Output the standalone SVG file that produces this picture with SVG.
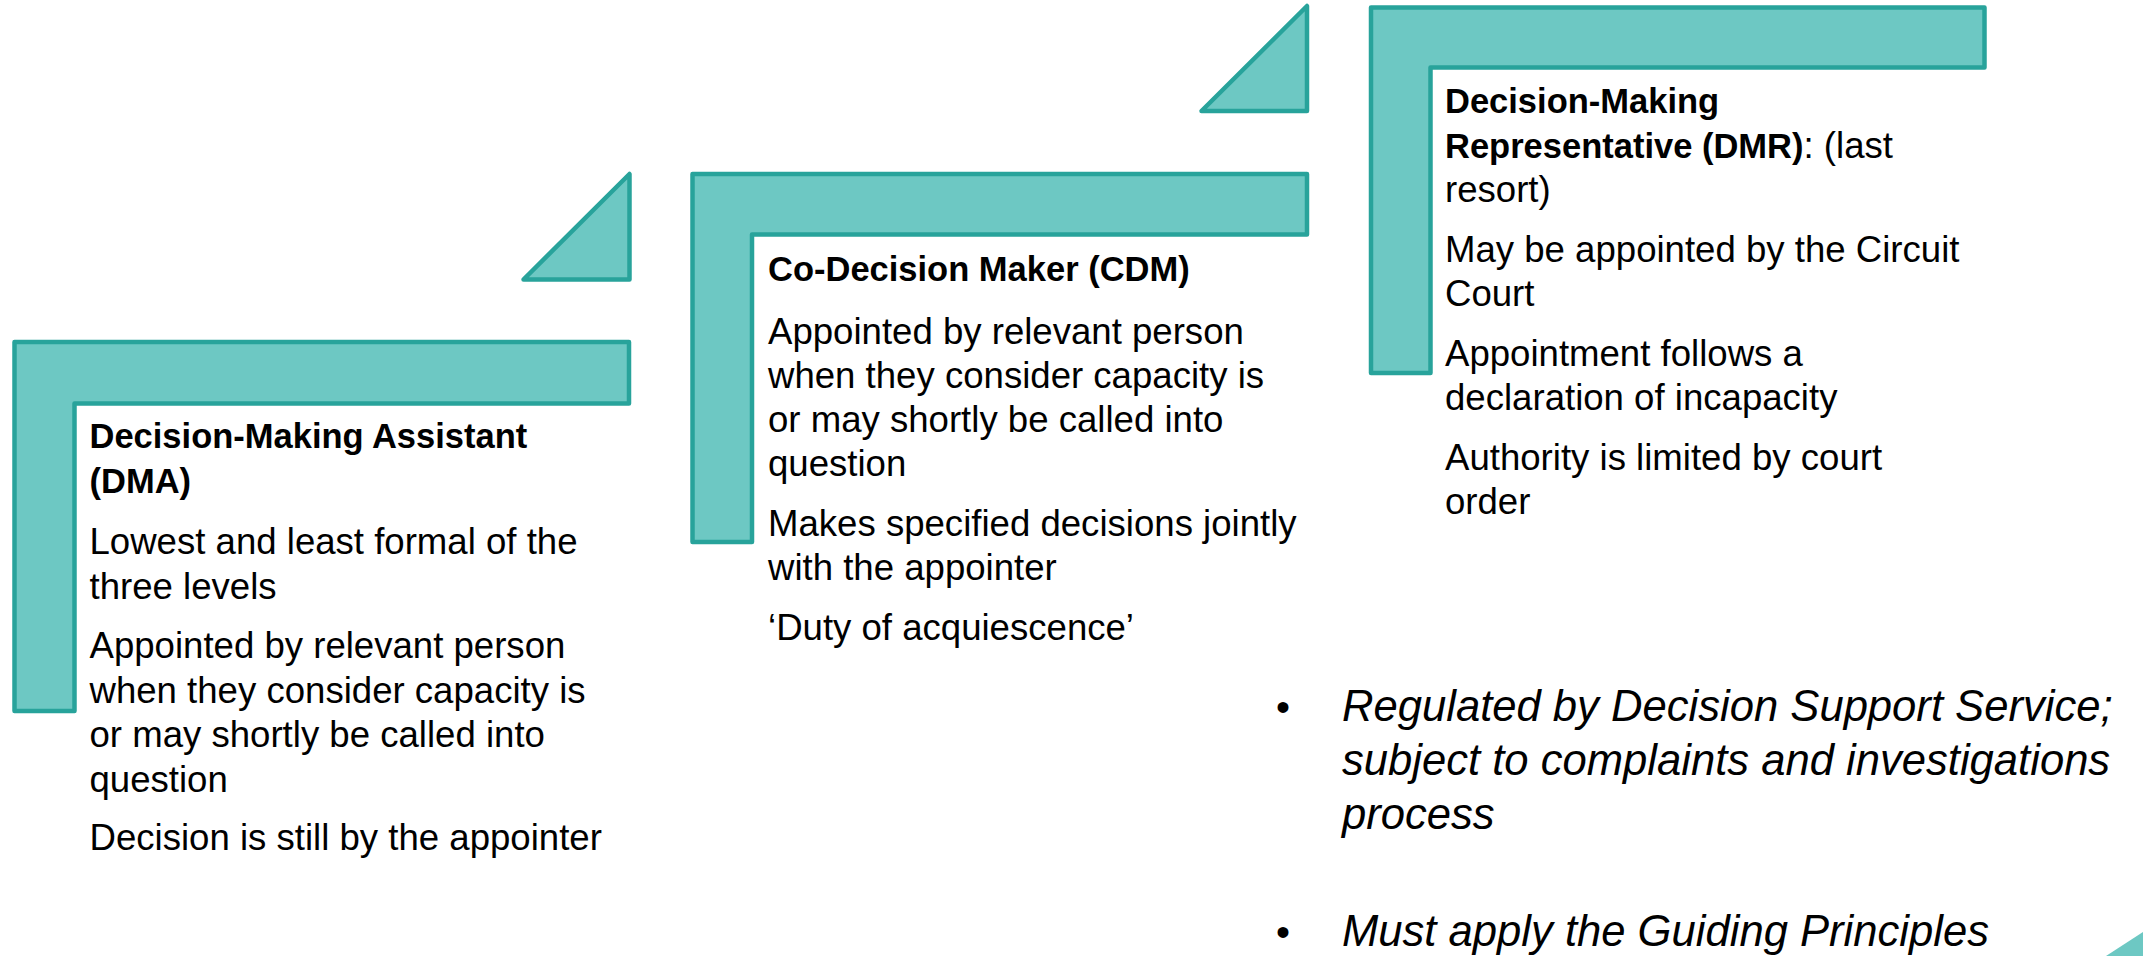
<svg xmlns="http://www.w3.org/2000/svg" width="2143" height="956" viewBox="0 0 2143 956">
  <style>
    .shape { fill: #6DC8C3; stroke: #28A39B; stroke-width: 4.5; stroke-linejoin: round; }
    .t { font-family: "Liberation Sans", Arial, sans-serif; font-size: 36.6px; fill: #000; }
    .b { font-weight: bold; font-size: 34.5px; }
    .n { font-weight: normal; font-size: 36.6px; }
    .it { font-family: "Liberation Sans", Arial, sans-serif; font-style: italic; font-size: 43.6px; fill: #000; }
  </style>
  <rect width="2143" height="956" fill="#FFFFFF"/>

  <g id="connectors">
    <polygon class="shape" points="523.5,279.5 629.5,174 629.5,279.5"/>
    <polygon class="shape" points="1201.5,111 1307,6 1307,111"/>
  </g>

  <g id="node-dma">
    <path class="shape" d="M14.5,342 H629 V403.5 H74.5 V711 H14.5 Z"/>
    <text class="t" x="89.5">
      <tspan class="b" x="89.5" y="448">Decision-Making Assistant</tspan>
      <tspan class="b" x="89.5" y="492.5">(DMA)</tspan>
      <tspan x="89.5" y="554">Lowest and least formal of the</tspan>
      <tspan x="89.5" y="598.5">three levels</tspan>
      <tspan x="89.5" y="658">Appointed by relevant person</tspan>
      <tspan x="89.5" y="702.5">when they consider capacity is</tspan>
      <tspan x="89.5" y="747">or may shortly be called into</tspan>
      <tspan x="89.5" y="791.5">question</tspan>
      <tspan x="89.5" y="850">Decision is still by the appointer</tspan>
    </text>
  </g>

  <g id="node-cdm">
    <path class="shape" d="M692.5,174 H1307 V234.5 H752 V542 H692.5 Z"/>
    <text class="t" x="768">
      <tspan class="b" x="768" y="281">Co-Decision Maker (CDM)</tspan>
      <tspan x="768" y="344">Appointed by relevant person</tspan>
      <tspan x="768" y="388">when they consider capacity is</tspan>
      <tspan x="768" y="432">or may shortly be called into</tspan>
      <tspan x="768" y="476">question</tspan>
      <tspan x="768" y="536">Makes specified decisions jointly</tspan>
      <tspan x="768" y="580">with the appointer</tspan>
      <tspan x="768" y="640">‘Duty of acquiescence’</tspan>
    </text>
  </g>

  <g id="node-dmr">
    <path class="shape" d="M1371,7.5 H1984.5 V67.5 H1430.5 V373 H1371 Z"/>
    <text class="t" x="1445">
      <tspan class="b" x="1445" y="113">Decision-Making</tspan>
      <tspan class="b" x="1445" y="157.5">Representative (DMR)</tspan><tspan class="n">: (last</tspan>
      <tspan x="1445" y="202">resort)</tspan>
      <tspan x="1445" y="262">May be appointed by the Circuit</tspan>
      <tspan x="1445" y="306">Court</tspan>
      <tspan x="1445" y="366">Appointment follows a</tspan>
      <tspan x="1445" y="410">declaration of incapacity</tspan>
      <tspan x="1445" y="470">Authority is limited by court</tspan>
      <tspan x="1445" y="514">order</tspan>
    </text>
  </g>

  <g id="node-notes">
    <text class="t" x="1276" y="721" style="font-size:40px">•</text>
    <text class="it">
      <tspan x="1342" y="721">Regulated by Decision Support Service;</tspan>
      <tspan x="1342" y="775">subject to complaints and investigations</tspan>
      <tspan x="1342" y="829">process</tspan>
    </text>
    <text class="t" x="1276" y="946" style="font-size:40px">•</text>
    <text class="it" x="1342" y="946">Must apply the Guiding Principles</text>
  </g>

  <g id="corner-decoration">
    <polygon points="2106,956 2143,932 2143,956" fill="#6DC8C3"/>
  </g>
</svg>
